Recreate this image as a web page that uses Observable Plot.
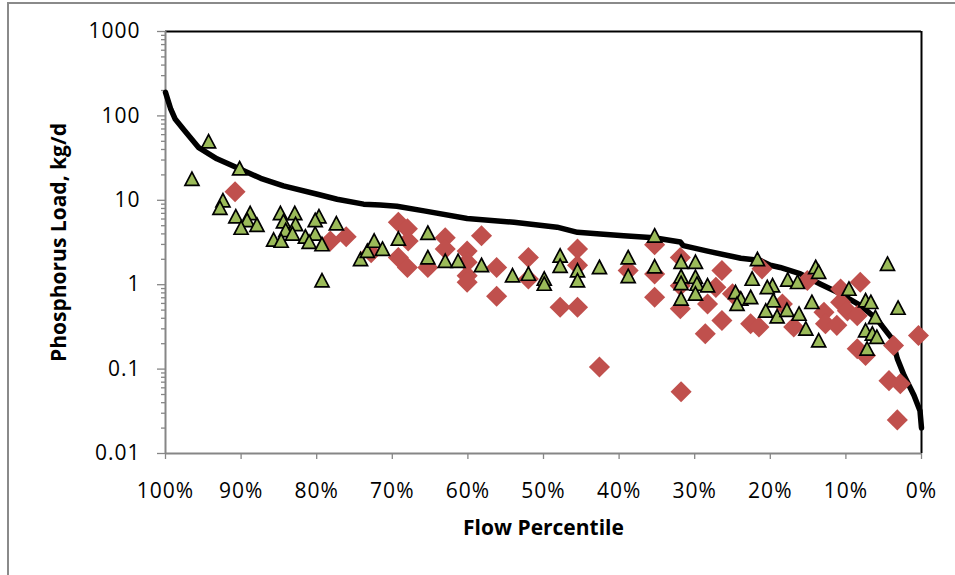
<!DOCTYPE html>
<html><head><meta charset="utf-8">
<script src="https://cdn.jsdelivr.net/npm/d3@7"></script>
<script src="https://cdn.jsdelivr.net/npm/@observablehq/plot@0.6"></script>
<style>
html,body{margin:0;padding:0;background:#fff;}
#wrap{position:relative;width:955px;height:575px;overflow:hidden;}
#border{position:absolute;left:7px;top:2px;width:960px;height:600px;border-top:2px solid #8a8a8a;border-left:2px solid #8a8a8a;pointer-events:none;}
#chart svg g[aria-label="y-axis tick label"] text,
#chart svg g[aria-label="x-axis tick label"] text{letter-spacing:1px;}
</style></head><body>
<div id="wrap"><div id="chart"></div><div id="border"></div></div>
<script>
// Load duration curve (flow percentile %, load kg/d)
const curvePct  = [100, 99.3, 98.7, 97.6, 95.6, 93.2, 90.3, 87.4, 84.4, 79.9, 77.3, 73.8, 71.6, 69.4, 65.8, 60.1, 53.9, 48.2, 45.5, 42.5, 39.4, 35.4, 31.9, 31.5, 28.3, 23.9, 21.3, 20.0, 18.7, 16.0, 13.4, 10.7, 8.1, 5.9, 3.9, 3.2, 2.3, 1.0, 0.2, 0];
const curveLoad = [190, 120, 91, 69, 42, 31, 23.8, 18.2, 14.8, 11.8, 10.3, 9.0, 8.8, 8.5, 7.5, 6.1, 5.5, 4.8, 4.17, 4.0, 3.8, 3.6, 3.2, 2.9, 2.5, 2.06, 1.93, 1.7, 1.6, 1.34, 1.02, 0.78, 0.57, 0.39, 0.23, 0.133, 0.084, 0.049, 0.032, 0.02];

// Green triangles
const triPct  = [96.5, 94.3, 90.2, 92.4, 92.8, 90.7, 88.8, 89.2, 90.0, 87.9, 84.8, 82.9, 84.4, 82.8, 84.1, 83.2, 85.7, 84.7, 81.5, 80.2, 79.7, 80.2, 81.0, 79.3, 77.4, 79.3, 74.2, 73.3, 72.4, 71.3, 69.2, 65.3, 65.3, 63.0, 61.3, 58.2, 54.1, 52.0, 49.9, 49.9, 47.8, 47.8, 45.5, 45.5, 42.6, 38.8, 38.8, 35.3, 35.3, 31.8, 29.9, 31.8, 31.8, 29.9, 29.7, 28.3, 29.9, 31.8, 21.7, 22.4, 19.7, 20.4, 17.7, 24.6, 23.9, 22.6, 24.4, 19.6, 20.6, 19.1, 17.8, 14.0, 13.6, 16.4, 14.5, 16.2, 15.3, 13.6, 9.6, 7.4, 6.7, 6.1, 7.4, 6.5, 5.9, 7.2, 4.5, 3.1];
const triLoad = [17.8, 49.7, 23.8, 9.9, 8.1, 6.4, 7.0, 5.8, 4.7, 5.1, 7.0, 7.0, 5.6, 5.2, 4.4, 4.0, 3.4, 3.3, 3.7, 4.0, 6.4, 5.8, 3.2, 3.0, 5.3, 1.12, 2.0, 2.5, 3.3, 2.65, 3.5, 4.1, 2.1, 1.9, 1.9, 1.7, 1.28, 1.34, 1.17, 1.02, 2.2, 1.66, 1.47, 1.12, 1.61, 2.1, 1.26, 3.8, 1.64, 1.85, 1.85, 1.25, 1.04, 1.23, 1.02, 0.975, 0.78, 0.68, 2.0, 1.17, 0.975, 0.93, 1.14, 0.81, 0.68, 0.71, 0.59, 0.65, 0.49, 0.42, 0.50, 1.61, 1.41, 1.07, 0.62, 0.45, 0.30, 0.218, 0.89, 0.65, 0.62, 0.41, 0.286, 0.262, 0.239, 0.174, 1.76, 0.53];

// Red diamonds
const diaPct  = [90.8, 78.2, 76.1, 72.8, 69.2, 68.0, 67.9, 69.2, 68.0, 65.3, 63.0, 63.0, 60.1, 60.1, 60.1, 60.1, 58.2, 56.2, 56.2, 52.0, 52.0, 47.8, 45.5, 45.5, 45.5, 42.6, 38.8, 35.3, 35.3, 35.3, 31.9, 31.9, 31.9, 31.8, 28.3, 26.4, 27.2, 26.4, 28.6, 25.0, 22.6, 21.5, 21.1, 18.4, 15.1, 8.1, 10.7, 10.7, 9.8, 8.5, 12.9, 12.7, 11.2, 16.9, 8.5, 7.4, 3.7, 0.4, 4.3, 2.8, 3.2];
const diaLoad = [12.6, 3.3, 3.7, 2.4, 5.5, 4.6, 3.3, 2.1, 1.6, 1.6, 3.6, 2.65, 2.5, 1.85, 1.28, 1.07, 3.8, 1.6, 0.73, 2.1, 1.17, 0.54, 2.65, 1.7, 0.54, 0.106, 1.47, 2.98, 1.34, 0.71, 2.1, 0.975, 0.52, 0.054, 0.59, 1.47, 0.93, 0.377, 0.262, 0.78, 0.344, 0.315, 1.54, 0.59, 1.12, 1.07, 0.89, 0.62, 0.49, 0.43, 0.47, 0.344, 0.33, 0.315, 0.174, 0.145, 0.19, 0.25, 0.073, 0.067, 0.025];

// Axis ticks / labels
const yTicks = [0.01, 0.1, 1, 10, 100, 1000];
const yTickLabels = ["0.01", "0.1", "1", "10", "100", "1000"];
const xTicks = [100, 90, 80, 70, 60, 50, 40, 30, 20, 10, 0];
const xTickLabels = ["100%", "90%", "80%", "70%", "60%", "50%", "40%", "30%", "20%", "10%", "0%"];
const yTitle = "Phosphorus Load, kg/d";
const xTitle = "Flow Percentile";

const yMinor = [];
for (let k = -2; k < 3; k++) for (let m = 2; m < 10; m++) yMinor.push(+(m * Math.pow(10, k)).toPrecision(3));

const curve = curvePct.map((p, i) => ({p, v: curveLoad[i]}));
const tris = triPct.map((p, i) => ({p, v: triLoad[i]}));
const dias = diaPct.map((p, i) => ({p, v: diaLoad[i]}));

const triSym = {draw(ctx, size) {
  const a = Math.sqrt(size / Math.PI);
  ctx.moveTo(0, -a); ctx.lineTo(a, a * 0.9); ctx.lineTo(-a, a * 0.9); ctx.closePath();
}};

const chart = Plot.plot({
  width: 955, height: 575,
  marginLeft: 165, marginRight: 34, marginTop: 31, marginBottom: 122,
  style: {fontFamily: "'Open Sans', sans-serif", fontSize: "21px", color: "#000", background: "transparent", overflow: "visible"},
  x: {domain: [100, 0]},
  y: {type: "log", domain: [0.01, 1000]},
  marks: [
    Plot.axisY({ticks: yMinor, tickSize: 4, tickFormat: () => "", stroke: "#868686", strokeWidth: 1.3, label: null}),
    Plot.axisY({ticks: yTicks, tickSize: 8, tickPadding: 17, tickFormat: d => yTickLabels[yTicks.indexOf(d)], stroke: "#868686", fill: "#000", strokeWidth: 1.3, label: null}),
    Plot.axisX({ticks: xTicks, tickSize: 6, tickPadding: 24, tickFormat: d => xTickLabels[xTicks.indexOf(d)], stroke: "#868686", fill: "#000", strokeWidth: 1.3, label: null}),
    Plot.ruleY([1000], {stroke: "#000", strokeWidth: 2}),
    Plot.ruleX([0], {stroke: "#000", strokeWidth: 2}),
    Plot.ruleX([100], {stroke: "#868686", strokeWidth: 2}),
    Plot.ruleY([0.01], {stroke: "#868686", strokeWidth: 2}),
    Plot.line(curve, {x: "p", y: "v", stroke: "#000", strokeWidth: 5.5, strokeLinejoin: "round"}),
    Plot.dot(dias, {x: "p", y: "v", symbol: "diamond2", fill: "#C0504D", r: 9.5}),
    Plot.dot(tris, {x: "p", y: "v", symbol: triSym, fill: "#9BBB59", stroke: "#000", strokeWidth: 1.7, r: 7}),
    Plot.text([yTitle], {text: d => d, frameAnchor: "left", textAnchor: "middle", dx: -106, rotate: -90, fontWeight: "bold", fontSize: 21, fill: "#000"}),
    Plot.text([xTitle], {text: d => d, frameAnchor: "bottom", dy: 81, fontWeight: "bold", fontSize: 21, fill: "#000"})
  ]
});
document.getElementById("chart").appendChild(chart);
</script>
</body></html>
